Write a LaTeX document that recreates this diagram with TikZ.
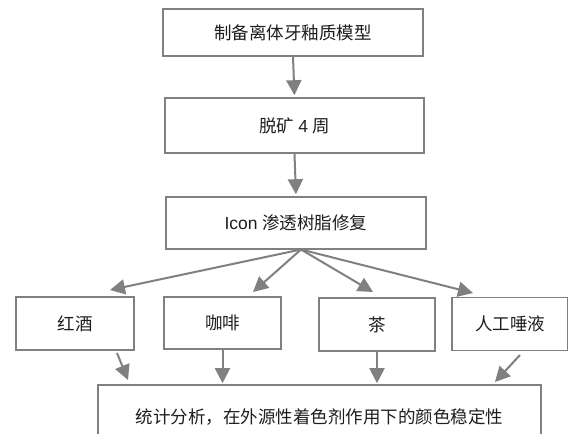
\documentclass[tikz,border=0pt]{standalone}
\usepackage{fontspec}
\setmainfont{Liberation Sans}
\newfontfamily\cjk{Noto Sans CJK SC}
\usetikzlibrary{arrows.meta}
\definecolor{linegray}{RGB}{128,128,128}
\definecolor{txt}{RGB}{30,30,30}
\tikzset{
  box/.style={draw=linegray, line width=1.6pt, fill=white, inner sep=0pt,
    text=txt, font=\fontsize{17.5}{17.5}\selectfont, anchor=center},
  arr/.style={draw=linegray, line width=2pt,
    -{Triangle[length=15pt,width=15pt]}}
}
\begin{document}
\begin{tikzpicture}[x=1pt,y=-1pt]
\fill[white] (0,0) rectangle (568,434);
\clip (0,0) rectangle (568,434);
% top chain
\node[box, minimum width=260pt, minimum height=47pt] (b1) at (293,32.5) {\cjk 制备离体牙釉质模型};
\node[box, minimum width=259pt, minimum height=55pt] (b2) at (294.5,125.5) {\cjk 脱矿 {\normalfont 4} 周};
\node[box, minimum width=260pt, minimum height=52pt] (b3) at (296,223) {Icon \cjk 渗透树脂修复};
% four solutions
\node[box, minimum width=118pt, minimum height=53pt] (r) at (75,323.5) {\cjk 红酒};
\node[box, minimum width=117pt, minimum height=52pt] (c) at (222.5,323) {\cjk 咖啡};
\node[box, minimum width=116pt, minimum height=53pt] (t) at (377,324.5) {\cjk 茶};
\node[box, minimum width=116pt, minimum height=53pt] (s) at (510,324) {\cjk 人工唾液};
% bottom box
\node[box, minimum width=443pt, minimum height=64pt] (bot) at (319.5,417) {\cjk 统计分析，在外源性着色剂作用下的颜色稳定性};
% connectors
\draw[arr, shorten >=2pt] (b1.south) -- (b2.north);
\draw[arr, shorten >=2pt] (b2.south) -- (b3.north);
\coordinate (f) at (301,249.5);
\coordinate (tr) at (110,290);
\coordinate (tc) at (253,292);
\coordinate (tt) at (373,292);
\coordinate (ts) at (473,293);
\draw[arr] (f) -- (tr);
\draw[arr] (f) -- (tc);
\draw[arr] (f) -- (tt);
\draw[arr] (f) -- (ts);
\coordinate (rs) at (117,353);
\coordinate (re) at (128,380);
\coordinate (ss) at (520,355);
\coordinate (se) at (495,382);
\draw[arr] (rs) -- (re);
\draw[arr, shorten >=1pt] (c.south) -- (c.south |- bot.north);
\draw[arr, shorten >=1pt] (t.south) -- (t.south |- bot.north);
\draw[arr] (ss) -- (se);
\end{tikzpicture}
\end{document}
